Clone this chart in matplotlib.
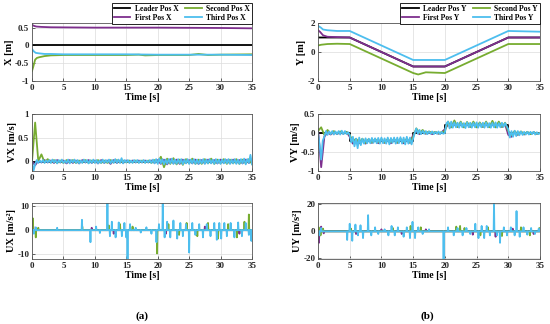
import matplotlib
matplotlib.use('Agg')
import matplotlib.pyplot as plt
from matplotlib.ticker import FormatStrFormatter
import numpy as np

plt.rcParams['font.family'] = ['Liberation Serif', 'DejaVu Serif']
plt.rcParams['font.weight'] = 'bold'
plt.rcParams['axes.unicode_minus'] = False

# ---- colours (MATLAB default order) ----
C_LEADER = 'black'
C_FIRST = '#7E2F8E'
C_SECOND = '#77AC30'
C_THIRD = '#4DBEEE'

# ---- position X ----
px_leader_t = [0, 35]
px_leader = [0, 0]
px_first_t = [0, 0.3, 0.7, 1.5, 3, 10, 20, 30, 35]
px_first = [0.58, 0.55, 0.53, 0.52, 0.51, 0.50, 0.50, 0.49, 0.48]
px_second_t = [0, 0.2, 0.5, 0.8, 1.2, 2, 3, 5, 10, 15, 17, 18, 20, 25, 26.5, 28, 30, 35]
px_second = [-0.72, -0.6, -0.4, -0.35, -0.33, -0.3, -0.28, -0.27, -0.27, -0.27, -0.26,
             -0.28, -0.27, -0.27, -0.24, -0.27, -0.26, -0.25]
px_third_t = [0, 0.3, 0.6, 1, 2, 3, 5, 10, 15, 20, 25, 30, 35]
px_third = [-0.1, -0.17, -0.21, -0.22, -0.24, -0.24, -0.25, -0.25, -0.25, -0.26, -0.26, -0.26, -0.27]

# ---- position Y ----
py_leader_t = [0, 5, 15, 20, 30, 35]
py_leader = [1, 1, -1, -1, 1, 1]
py_first_t = [0, 0.3, 0.8, 1.5, 5, 15, 20, 30, 35]
py_first = [1.5, 1.4, 1.15, 1.05, 1.0, -1.0, -1.0, 1.0, 1.0]
py_second_t = [0, 0.5, 1.5, 3, 5, 15, 15.8, 17, 20, 30, 35]
py_second = [0.45, 0.5, 0.55, 0.57, 0.55, -1.45, -1.55, -1.4, -1.45, 0.55, 0.55]
py_third_t = [0, 0.4, 0.8, 1.5, 3, 5, 15, 20, 30, 35]
py_third = [1.8, 1.7, 1.55, 1.5, 1.45, 1.45, -0.55, -0.55, 1.45, 1.4]

# ---- velocity X (third sampled every 0.25 s, others every 0.5 s) ----
vx_third = [0.00, -0.19, -0.06, 0.03, -0.03, 0.02, -0.02, 0.03, -0.03, 0.02,
            -0.02, 0.03, -0.03, 0.04, -0.02, 0.03, -0.04, 0.03, -0.02, 0.04,
            -0.03, 0.02, -0.03, 0.04, -0.04, 0.03, -0.02, 0.04, -0.03, 0.03,
            -0.04, 0.02, -0.03, 0.04, -0.02, 0.03, -0.04, 0.03, -0.03, 0.04,
            -0.03, 0.03, -0.04, 0.02, -0.03, 0.04, -0.03, 0.03, -0.02, 0.04,
            -0.04, 0.03, -0.03, 0.05, -0.03, 0.04, -0.03, 0.07, -0.04, 0.03,
            -0.02, 0.03, -0.03, 0.02, -0.03, 0.03, -0.02, 0.03, -0.03, 0.02,
            -0.02, 0.03, -0.03, 0.02, -0.02, 0.03, -0.03, 0.04, -0.04, 0.05,
            -0.05, 0.06, -0.04, 0.05, -0.06, 0.04, -0.05, 0.05, -0.04, 0.06,
            -0.05, 0.04, -0.05, 0.05, -0.04, 0.05, -0.06, 0.04, -0.04, 0.05,
            -0.05, 0.04, -0.04, 0.05, -0.05, 0.04, -0.05, 0.04, -0.04, 0.05,
            -0.05, 0.04, -0.04, 0.05, -0.04, 0.04, -0.05, 0.05, -0.04, 0.04,
            -0.05, 0.04, -0.04, 0.05, -0.04, 0.05, -0.05, 0.04, -0.04, 0.05,
            -0.05, 0.04, -0.05, 0.05, -0.04, 0.06, -0.06, 0.05, -0.03, 0.14,
            -0.06]
vx_second = [0.00, 0.82, 0.01, 0.15, -0.02, 0.05, -0.02, 0.03, -0.03, 0.02,
             -0.03, 0.03, -0.02, 0.03, -0.03, 0.02, -0.02, 0.03, -0.03, 0.02,
             -0.02, 0.03, -0.03, 0.02, -0.03, 0.03, -0.02, 0.03, -0.02, 0.02,
             -0.02, 0.02, -0.02, 0.02, -0.02, 0.02, -0.02, 0.02, -0.03, 0.03,
             -0.02, 0.10, -0.12, 0.06, -0.05, 0.07, -0.06, 0.04, -0.07, 0.05,
             -0.04, 0.06, -0.05, 0.04, -0.05, 0.05, -0.04, 0.06, -0.05, 0.04,
             -0.04, 0.05, -0.05, 0.04, -0.04, 0.05, -0.05, 0.04, -0.04, 0.05,
             -0.05]
vx_first = [0.00, -0.08, 0.02, -0.02, 0.03, -0.02, 0.02, -0.03, 0.03, -0.02,
            0.02, -0.04, 0.03, -0.03, 0.02, -0.04, 0.03, -0.02, 0.03, -0.03,
            0.02, -0.04, 0.03, -0.03, 0.02, -0.05, 0.03, -0.03, 0.02, -0.03,
            0.02, -0.02, 0.02, -0.02, 0.02, -0.02, 0.02, -0.02, 0.02, -0.03,
            0.03, -0.05, 0.04, -0.06, 0.05, -0.04, 0.04, -0.05, 0.04, -0.03,
            0.03, -0.04, 0.04, -0.05, 0.03, -0.04, 0.04, -0.03, 0.03, -0.04,
            0.04, -0.03, 0.03, -0.04, 0.04, -0.03, 0.03, -0.04, 0.04, -0.03,
            0.03]
vx_leader_t = [0, 35]
vx_leader = [0, 0]

# ---- velocity Y ----
vy_leader_t = [0, 5, 5, 15, 15, 20, 20, 30, 30, 35]
vy_leader = [0, 0, -0.2, -0.2, 0, 0, 0.2, 0.2, 0, 0]
vy_third = [0.0, -0.3, -0.7, -0.2, -0.1, 0.05, -0.05, 0.04, -0.03, 0.05,
            -0.04, 0.04, -0.03, 0.05, -0.04, 0.06, -0.03, 0.05, -0.03, 0.02,
            -0.05, -0.25, -0.1, -0.35, -0.15, -0.4, -0.12, -0.32, -0.15, -0.28,
            -0.14, -0.27, -0.15, -0.27, -0.13, -0.26, -0.14, -0.27, -0.13, -0.28,
            -0.12, -0.27, -0.14, -0.28, -0.12, -0.3, -0.13, -0.26, -0.12, -0.28,
            -0.12, -0.27, -0.11, -0.28, -0.12, -0.3, -0.1, -0.28, -0.12, -0.3,
            -0.15, 0.0, 0.12, -0.02, 0.08, -0.03, 0.06, -0.02, 0.05, -0.03,
            0.04, -0.02, 0.04, -0.03, 0.03, -0.02, 0.04, -0.03, 0.03, -0.02,
            0.0, 0.25, 0.3, 0.12, 0.3, 0.14, 0.28, 0.15, 0.27, 0.14,
            0.28, 0.15, 0.26, 0.13, 0.28, 0.15, 0.27, 0.14, 0.27, 0.15,
            0.28, 0.14, 0.26, 0.15, 0.27, 0.14, 0.28, 0.15, 0.26, 0.14,
            0.27, 0.15, 0.28, 0.14, 0.26, 0.15, 0.27, 0.16, 0.26, 0.18,
            0.1, -0.12, 0.05, -0.1, 0.06, -0.08, 0.05, -0.06, 0.04, -0.05,
            0.03, -0.04, 0.03, -0.04, 0.03, -0.03, 0.03, -0.04, 0.02, -0.03,
            0.0]
vy_second = [0.05, 0.15, -0.05, 0.08, -0.02, 0.05, -0.02, 0.04, -0.01, 0.03,
             -0.05, -0.22, -0.15, -0.25, -0.15, -0.26, -0.16, -0.25, -0.16, -0.24,
             -0.16, -0.25, -0.16, -0.24, -0.16, -0.25, -0.15, -0.24, -0.15, -0.25,
             -0.1, 0.12, 0.0, 0.08, -0.01, 0.04, 0.0, 0.03, -0.01, 0.02,
             0.05, 0.3, 0.15, 0.33, 0.16, 0.3, 0.15, 0.29, 0.16, 0.3,
             0.15, 0.28, 0.16, 0.3, 0.15, 0.32, 0.15, 0.3, 0.16, 0.27,
             0.05, -0.06, 0.05, -0.04, 0.04, -0.03, 0.03, -0.03, 0.02, -0.02,
             0.0]
vy_first = [0.1, -0.9, -0.1, 0.02, -0.04, 0.03, -0.03, 0.02, -0.02, 0.03,
            -0.1, -0.28, -0.18, -0.27, -0.17, -0.28, -0.18, -0.26, -0.18, -0.27,
            -0.17, -0.26, -0.18, -0.27, -0.18, -0.26, -0.17, -0.27, -0.18, -0.26,
            -0.05, 0.05, -0.03, 0.04, -0.02, 0.03, -0.03, 0.02, -0.02, 0.02,
            0.1, 0.22, 0.15, 0.25, 0.16, 0.24, 0.15, 0.25, 0.16, 0.24,
            0.15, 0.25, 0.16, 0.24, 0.16, 0.25, 0.15, 0.24, 0.16, 0.23,
            -0.05, -0.1, 0.03, -0.05, 0.03, -0.04, 0.02, -0.03, 0.02, -0.02,
            0.0]

# ---- control inputs: spikes (time, amplitude) on a zero baseline ----
ux_third = [(0.3, -1.5), (0.6, 1.2), (4.0, 1.0), (7.95, 4.3), (9.3, -5), (10.2, 1.5),
            (10.8, -1.2), (12.0, 11.3), (12.4, -2.5), (12.7, 3.5), (13.3, -3), (13.8, 3.2),
            (14.3, -2.5), (14.7, 3), (15.0, -3), (15.2, -12), (15.6, 2.5), (16.5, 1.0),
            (17.3, -1.0), (18.2, 1.2), (19.0, -1.5), (19.8, -5), (20.2, 2.5), (20.8, 11.3),
            (21.1, -3), (21.5, 3.5), (22.0, -3), (22.5, 4), (23.1, -3.5), (23.6, 3),
            (24.0, -2.5), (24.5, 2.5), (25.0, -9.3), (25.5, 3), (26.0, -2), (26.6, 2.5),
            (27.2, -3), (27.8, 2.5), (28.4, -2.5), (29.0, 3), (29.4, -4), (29.8, 3),
            (30.1, -3.5), (30.6, 3), (31.0, -2.5), (31.6, 3), (32.2, -3), (32.8, 3.2),
            (33.4, -2.5), (34.0, 3), (34.5, -2), (34.9, -4.5)]
ux_second = [(0.1, 5.0), (0.6, -3.0), (1.0, 1.0), (8.0, 1.5), (12.2, 2), (14.0, 2.5),
             (16.0, 1.5), (19.9, -9.7), (21.7, 2.5), (23.4, -2), (24.6, 3), (26.3, -2.5),
             (28.0, 3), (29.6, -3.5), (31.2, 2.5), (32.6, -3), (33.8, 3.5), (34.5, 6.5),
             (35.0, -4)]
ux_first = [(0.2, 1.5), (0.5, -1.0), (9.5, 1.0), (13.0, -1.5), (21.3, -1.5), (27.5, 1.5),
            (33.0, -1.5)]

uy_third = [(0.2, -3), (0.5, 2.5), (4.6, -6.4), (5.0, 5.6), (5.4, -7), (5.9, 5), (6.3, -3),
            (6.7, 4.5), (7.1, -5), (7.9, 12), (8.4, -3), (9.0, 3), (9.5, -2), (10.5, 1.5),
            (11.1, -3), (11.6, 4), (12.1, -3), (12.6, 3), (13.5, -4), (14.0, 3), (14.5, -5),
            (14.9, 7), (15.3, -5), (15.8, 3), (16.5, -2), (17.5, 1.5), (19.8, -22),
            (20.5, 3), (21.4, -3), (22.0, 2.5), (22.8, -3), (23.4, 2.5), (24.0, -2),
            (24.8, 5.6), (25.3, -5), (25.8, 4), (26.2, -5), (26.6, 4), (27.1, -3),
            (27.75, 21), (28.2, -3), (28.7, -8.5), (29.3, 3), (29.8, -3), (30.4, 3),
            (31.0, -3), (31.3, 15), (31.8, -4), (32.4, 3), (33.0, -2.5), (33.6, 2.5),
            (34.2, -2), (34.8, 2)]
uy_second = [(0.1, 3), (0.4, -3), (0.8, 2), (5.2, 2), (11.8, 2.5), (14.6, 4), (16.2, 3),
             (21.8, 3.5), (22.4, 4), (23.1, 2.5), (25.6, -3), (26.8, 3), (29.0, -3.5),
             (32.0, 3), (33.4, -3), (34.9, 2.5)]
uy_first = [(0.15, -8.5), (0.5, 3.5), (0.9, -1.5), (6.0, -2), (10.0, 1.5), (13.2, -2),
            (17.0, 1.5), (24.4, -2.5), (28.0, -4), (30.7, 2), (34.0, -2)]

t_fine = np.arange(141) * 0.25
t_coarse = np.arange(71) * 0.5


def spike_line(spikes, half=0.06):
    """turn (time, amp) spike list into a polyline on a zero baseline"""
    ts, ys = [0.0], [0.0]
    for t, a in spikes:
        ts += [max(t - half, 0), t, min(t + half, 35)]
        ys += [0, a, 0]
    ts.append(35.0)
    ys.append(0.0)
    return ts, ys


def style_axes(ax, ylabel, ylim, yticks, fmt):
    ax.set_xlim(0, 35)
    ax.set_ylim(*ylim)
    ax.set_xticks(range(0, 36, 5))
    ax.set_yticks(yticks)
    ax.yaxis.set_major_formatter(FormatStrFormatter(fmt))
    ax.grid(True, color='#dcdcdc', linewidth=0.5)
    ax.set_axisbelow(True)
    ax.tick_params(direction='in', length=2, width=0.5, labelsize=6.5, pad=2, colors='#262626')
    for sp in ax.spines.values():
        sp.set_color('#555555')
        sp.set_linewidth(0.6)
    ax.set_xlabel('Time [s]', fontsize=7, fontweight='bold', labelpad=1)
    ax.set_ylabel(ylabel, fontsize=7.5, fontweight='bold', labelpad=1)


fig = plt.figure(figsize=(5.5, 3.24), dpi=100)
LW = 1.3

col_x = [32 / 550, 318 / 550]
col_w = [220 / 550, 222 / 550]
rows = [(23, 81), (114, 171), (203, 259)]


def make_ax(col, row):
    top, bot = rows[row]
    return fig.add_axes([col_x[col], 1 - bot / 324, col_w[col], (bot - top) / 324])


# row 1 left: X positions
ax = make_ax(0, 0)
ax.plot(px_leader_t, px_leader, color=C_LEADER, lw=LW, label='Leader Pos X')
ax.plot(px_first_t, px_first, color=C_FIRST, lw=LW, label='First Pos X')
ax.plot(px_second_t, px_second, color=C_SECOND, lw=LW, label='Second Pos X')
ax.plot(px_third_t, px_third, color=C_THIRD, lw=LW, label='Third Pos X')
style_axes(ax, 'X [m]', (-1, 0.63), [-1, -0.5, 0, 0.5], '%g')
leg_kw = dict(loc='lower right', bbox_to_anchor=(1.0, 0.99), ncol=2, fontsize=5.5,
              frameon=True, fancybox=False, edgecolor='black', framealpha=1,
              handlelength=2.2, columnspacing=0.8, handletextpad=0.6,
              borderpad=0.25, labelspacing=0.1, borderaxespad=0)
leg = ax.legend(**leg_kw)
leg.get_frame().set_linewidth(0.6)

# row 1 right: Y positions
ax = make_ax(1, 0)
ax.plot(py_leader_t, py_leader, color=C_LEADER, lw=LW, label='Leader Pos Y')
ax.plot(py_first_t, py_first, color=C_FIRST, lw=LW, label='First Pos Y')
ax.plot(py_second_t, py_second, color=C_SECOND, lw=LW, label='Second Pos Y')
ax.plot(py_third_t, py_third, color=C_THIRD, lw=LW, label='Third Pos Y')
style_axes(ax, 'Y [m]', (-2, 2), [-2, 0, 2], '%g')
leg = ax.legend(**leg_kw)
leg.get_frame().set_linewidth(0.6)

# row 2 left: VX
ax = make_ax(0, 1)
ax.plot(vx_leader_t, vx_leader, color=C_LEADER, lw=LW)
ax.plot(t_coarse, vx_first, color=C_FIRST, lw=LW)
ax.plot(t_coarse, vx_second, color=C_SECOND, lw=LW)
ax.plot(t_fine, vx_third, color=C_THIRD, lw=LW)
style_axes(ax, 'VX [m/s]', (-0.2, 1), [0, 0.5, 1], '%g')

# row 2 right: VY
ax = make_ax(1, 1)
ax.plot(vy_leader_t, vy_leader, color=C_LEADER, lw=LW)
ax.plot(t_coarse, vy_first, color=C_FIRST, lw=LW)
ax.plot(t_coarse, vy_second, color=C_SECOND, lw=LW)
ax.plot(t_fine, vy_third, color=C_THIRD, lw=LW)
style_axes(ax, 'VY [m/s]', (-1, 0.5), [-1, -0.5, 0, 0.5], '%g')

# row 3 left: UX
ax = make_ax(0, 2)
ax.plot([0, 35], [0, 0], color=C_LEADER, lw=LW)
for spikes, c in [(ux_first, C_FIRST), (ux_second, C_SECOND), (ux_third, C_THIRD)]:
    ts, ys = spike_line(spikes)
    ax.plot(ts, ys, color=c, lw=LW)
style_axes(ax, 'UX [m/s²]', (-12, 11.3), [-10, 0, 10], '%g')

# row 3 right: UY
ax = make_ax(1, 2)
ax.plot([0, 35], [0, 0], color=C_LEADER, lw=LW)
for spikes, c in [(uy_first, C_FIRST), (uy_second, C_SECOND), (uy_third, C_THIRD)]:
    ts, ys = spike_line(spikes)
    ax.plot(ts, ys, color=c, lw=LW)
style_axes(ax, 'UY [m/s²]', (-20.5, 21), [-20, 0, 20], '%g')

fig.text(142 / 550, 1 - 316 / 324, '(a)', ha='center', va='center', fontsize=8, fontweight='bold')
fig.text(427 / 550, 1 - 316 / 324, '(b)', ha='center', va='center', fontsize=8, fontweight='bold')

fig.savefig('out.png', dpi=100)
